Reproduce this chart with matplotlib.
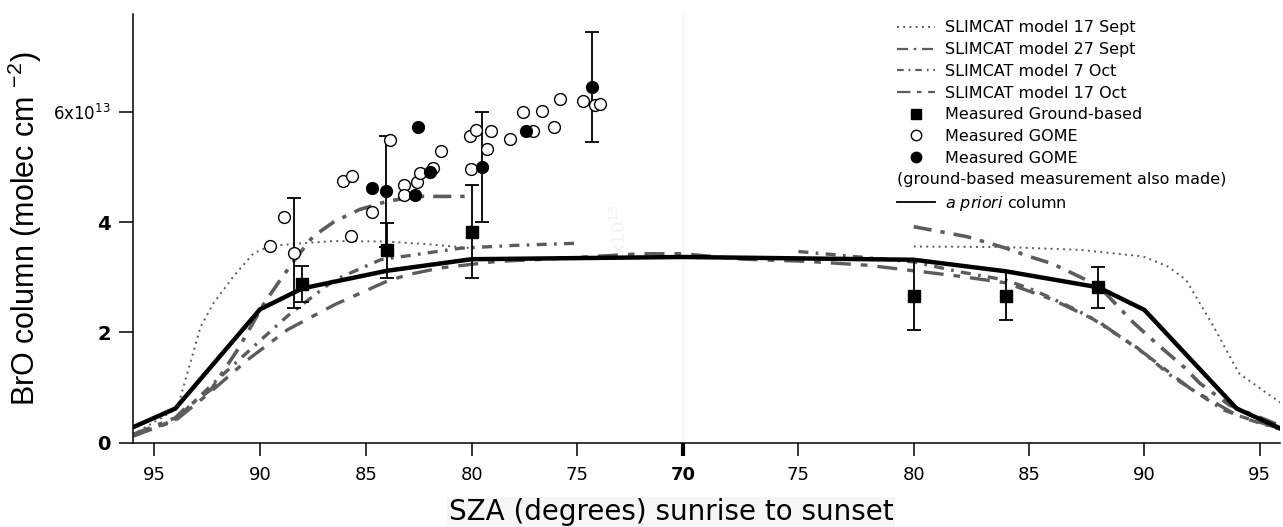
import numpy as np
import matplotlib
matplotlib.use("Agg")
import matplotlib.pyplot as plt
from matplotlib.lines import Line2D

# -----------------------------
# Data (SZA in degrees, BrO column in 1e13 molec cm-2)
# am = sunrise side, pm = sunset side
# -----------------------------
apriori_am_sza = [96, 94, 90, 88, 84, 80, 70]
apriori_am = [0.28, 0.62, 2.42, 2.80, 3.12, 3.33, 3.37]
apriori_pm_sza = [80, 84, 88, 90, 94, 96]
apriori_pm = [3.32, 3.11, 2.82, 2.41, 0.62, 0.24]

sep17_am_sza = [96, 94, 93.8, 93.3, 92.8, 92.2, 91.25, 90.3, 89.5, 88, 86.5, 84, 82, 80]
sep17_am = [0.15, 0.6, 0.77, 1.44, 2.11, 2.53, 3.02, 3.44, 3.57, 3.62, 3.66, 3.65, 3.6, 3.53]
sep17_pm_sza = [80, 84, 87.2, 89.95, 91, 91.8, 93.0, 94.1, 95.3, 96]
sep17_pm = [3.56, 3.55, 3.50, 3.38, 3.2, 2.96, 2.11, 1.26, 0.9, 0.7]

sep27_am_sza = [96, 94, 93.6, 92.3, 91.0, 89.85, 89.05, 88.3, 87.5, 86.5, 85.3, 84, 82.6, 80]
sep27_am = [0.15, 0.45, 0.6, 0.97, 1.72, 2.5, 2.95, 3.35, 3.74, 4.01, 4.23, 4.38, 4.47, 4.47]
sep27_pm_sza = [80, 82.3, 84, 85, 86, 88, 89.5, 90.5, 91.75, 92.4, 93.7, 96]
sep27_pm = [3.92, 3.74, 3.53, 3.38, 3.25, 2.85, 2.19, 1.81, 1.36, 1.08, 0.68, 0.29]

oct7_am_sza = [96, 94, 92, 90, 88.7, 86.5, 84.3, 82, 80.5, 78, 75]
oct7_am = [0.12, 0.42, 1.15, 1.85, 2.3, 2.95, 3.32, 3.45, 3.53, 3.58, 3.62]
oct7_pm_sza = [75, 80, 82, 84, 85.2, 86.8, 87.6, 89.7, 91.2, 92.3, 93.4, 94.6, 96]
oct7_pm = [3.47, 3.28, 3.1, 2.95, 2.77, 2.46, 2.29, 1.72, 1.2, 0.9, 0.6, 0.41, 0.23]

oct17_am_sza = [96, 94, 92.4, 90.6, 88.7, 86.5, 84, 83, 81.5, 78.8, 77, 72, 70]
oct17_am = [0.12, 0.4, 0.9, 1.5, 2.05, 2.5, 2.93, 3.05, 3.17, 3.29, 3.32, 3.43, 3.43]
oct17_pm_sza = [72.6, 75.4, 78, 80, 82, 84, 86, 88, 90, 92, 94, 96]
oct17_pm = [3.33, 3.29, 3.22, 3.12, 3.02, 2.9, 2.6, 2.2, 1.62, 0.98, 0.5, 0.24]

# ground-based measurements
gb_am_sza = [88, 84, 80]
gb_am = [2.88, 3.49, 3.83]
gb_am_err = [0.33, 0.5, 0.85]
gb_pm_sza = [80, 84, 88]
gb_pm = [2.67, 2.67, 2.82]
gb_pm_err = [0.63, 0.45, 0.37]

# GOME (all on sunrise side)
gome_open_sza = [89.52, 88.86, 88.37, 86.08, 85.63, 85.69, 84.71, 83.84, 83.21, 83.17,
                 82.58, 82.42, 81.84, 81.43, 80.06, 79.81, 80.01, 79.27, 79.06, 78.16,
                 77.56, 77.11, 76.66, 76.11, 75.84, 74.72, 74.17, 73.94]
gome_open = [3.57, 4.09, 3.44, 4.75, 4.84, 3.76, 4.19, 5.49, 4.67, 4.49,
             4.73, 4.89, 4.98, 5.29, 5.57, 5.68, 4.97, 5.33, 5.66, 5.52,
             6.01, 5.66, 6.02, 5.73, 6.23, 6.21, 6.12, 6.15]
gome_fill_sza = [84.71, 84.03, 82.55, 82.66, 81.98, 79.50, 77.41, 74.33]
gome_fill = [4.62, 4.56, 5.73, 4.49, 4.92, 5.01, 5.66, 6.46]
gome_err_sza = [88.37, 84.03, 79.50, 74.33]
gome_err_val = [3.44, 4.56, 5.01, 6.46]
gome_err = [1.0, 1.0, 1.0, 1.0]

am_ticks = [95, 90, 85, 80, 75]
pm_ticks = [75, 80, 85, 90, 95]

# -----------------------------
# helpers: sunrise side to the left of 70, sunset side to the right
# -----------------------------
K = 1.09  # the sunset half is drawn slightly wider


def am(s):
    return 70 - np.asarray(s, dtype=float)


def pm(s):
    return np.asarray(s, dtype=float) - 70


def fwd(u):
    u = np.asarray(u, dtype=float)
    return np.where(u < 0, u, u * K)


def inv(v):
    v = np.asarray(v, dtype=float)
    return np.where(v < 0, v, v / K)


plt.rcParams['font.family'] = ['DejaVu Sans']
fig = plt.figure(figsize=(12.83, 5.27), dpi=100)
ax = fig.add_axes([0.1037, 0.16, 0.8943, 0.8134])
ax.set_xscale('function', functions=(fwd, inv))

grey = '#5c5c5c'

# faint noon line and ghost label
ax.axvline(0, color='#f2f2f2', lw=1, zorder=0)
ax.text(am(73.0), 3.86, 'x10$^{13}$', rotation=90, color='#f3f3f3',
        fontsize=13, ha='center', va='center', zorder=0)

# model curves
ax.plot(am(sep17_am_sza), sep17_am, color=grey, lw=1.4, ls=(0, (1, 2.2)))
ax.plot(pm(sep17_pm_sza), sep17_pm, color=grey, lw=1.4, ls=(0, (1, 2.2)))

ls27 = (0, (5, 2.5, 1.2, 2.5))
ax.plot(am(sep27_am_sza), sep27_am, color=grey, lw=2.6, ls=ls27)
ax.plot(pm(sep27_pm_sza), sep27_pm, color=grey, lw=2.6, ls=ls27)

ls7 = (0, (3, 2.2, 0.8, 2.2))
ax.plot(am(oct7_am_sza), oct7_am, color=grey, lw=2.4, ls=ls7)
ax.plot(pm(oct7_pm_sza), oct7_pm, color=grey, lw=2.4, ls=ls7)

ls17 = (0, (6, 3, 2, 3))
oct17_u = np.concatenate([am(oct17_am_sza), pm(oct17_pm_sza)])
ax.plot(oct17_u, oct17_am + oct17_pm, color=grey, lw=2.4, ls=ls17)

# a priori
apr_u = np.concatenate([am(apriori_am_sza), pm(apriori_pm_sza)])
ax.plot(apr_u, apriori_am + apriori_pm, color='black', lw=3.2, zorder=3,
        solid_joinstyle='miter')

# measurements
eb = dict(fmt='none', ecolor='black', elinewidth=1.3, capsize=5, capthick=1.3, zorder=4)
ax.errorbar(am(gome_err_sza), gome_err_val, yerr=gome_err, **eb)
ax.errorbar(am(gb_am_sza), gb_am, yerr=gb_am_err, **eb)
ax.errorbar(pm(gb_pm_sza), gb_pm, yerr=gb_pm_err, **eb)

ax.plot(am(gome_open_sza), gome_open, 'o', ms=8.5, mfc='white', mec='black', mew=1.0, zorder=5)
ax.plot(am(gome_fill_sza), gome_fill, 'o', ms=8.5, mfc='black', mec='black', zorder=6)
ax.plot(am(gb_am_sza), gb_am, 's', ms=8, color='black', zorder=6)
ax.plot(pm(gb_pm_sza), gb_pm, 's', ms=8, color='black', zorder=6)

# -----------------------------
# axes
# -----------------------------
ax.set_xlim(-26.0, 25.9)
ax.set_ylim(0, 7.78)
for side in ['top', 'right']:
    ax.spines[side].set_visible(False)
for side in ['left', 'bottom']:
    ax.spines[side].set_linewidth(1.1)

xt = list(am(am_ticks)) + [0] + list(pm(pm_ticks))
xl = [str(t) for t in am_ticks] + ['70'] + [str(t) for t in pm_ticks]
ax.set_xticks(xt)
ax.set_xticklabels(xl, fontsize=13)
ax.tick_params(axis='x', length=9, width=1.1, pad=8)
for lab in ax.get_xticklabels():
    if lab.get_text() == '70':
        lab.set_fontweight('bold')
ax.get_xticklines()[10].set_markeredgewidth(3)

ax.set_yticks([0, 2, 4, 6])
ax.set_yticklabels(['0', '2', '4', '6x10$^{13}$'])
ax.tick_params(axis='y', length=10, width=1.1, pad=6)
for lab in ax.get_yticklabels():
    if lab.get_text() in ('0', '2', '4'):
        lab.set_fontweight('bold')
        lab.set_fontsize(14)
    else:
        lab.set_fontsize(12)

ax.set_ylabel(r'BrO column (molec cm $^{\mathregular{-2}}$)', fontsize=22,
              family='Liberation Sans')
ax.yaxis.set_label_coords(-0.0775, 0.5)
ax.set_xlabel('SZA (degrees) sunrise to sunset', fontsize=20,
              bbox=dict(facecolor='#f6f6f6', edgecolor='none', pad=1))
ax.xaxis.set_label_coords(0.469, -0.13)

# -----------------------------
# legend
# -----------------------------
handles = [
    Line2D([], [], color=grey, lw=1.4, ls=(0, (1, 2.2))),
    Line2D([], [], color=grey, lw=1.6, ls=ls27),
    Line2D([], [], color=grey, lw=1.6, ls=ls7),
    Line2D([], [], color=grey, lw=1.6, ls=ls17),
    Line2D([], [], color='black', marker='s', ls='none', ms=7),
    Line2D([], [], color='black', marker='o', mfc='white', ls='none', ms=7.5),
    Line2D([], [], color='black', marker='o', ls='none', ms=7.5),
    Line2D([], [], color='none'),
    Line2D([], [], color='black', lw=1.3),
]
labels = ['SLIMCAT model 17 Sept', 'SLIMCAT model 27 Sept', 'SLIMCAT model 7 Oct',
          'SLIMCAT model 17 Oct', 'Measured Ground-based', 'Measured GOME',
          'Measured GOME', '(ground-based measurement also made)',
          r'$\it{a\ priori}$ column']
leg = ax.legend(handles, labels, loc='upper right', bbox_to_anchor=(1.0, 1.0),
                frameon=False, fontsize=11.5, handlelength=2.4, handletextpad=0.6,
                labelspacing=0.42, borderaxespad=0.0)
fig.canvas.draw()
fs_px = 11.5 * 100 / 72
leg.get_texts()[7].set_x(-(2.4 + 0.6) * fs_px)

fig.savefig('out.png', dpi=100)
